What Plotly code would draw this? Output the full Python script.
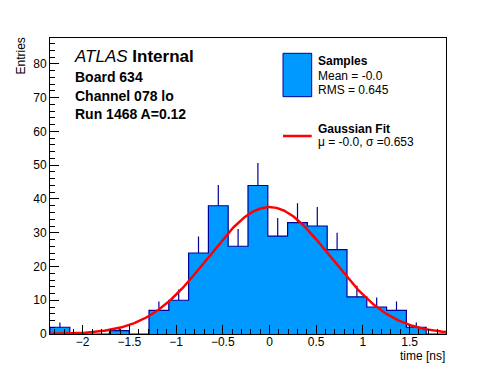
import math
import plotly.graph_objects as go

# ---------------- data ----------------
bin_edges = [-2.35, -2.138, -1.926, -1.714, -1.502, -1.29, -1.078, -0.866, -0.654,
             -0.442, -0.23, -0.018, 0.194, 0.406, 0.618, 0.83, 1.042, 1.254,
             1.466, 1.678, 1.89]
counts = [2, 0, 0, 1, 0, 7, 10, 24, 38, 26, 44, 29, 33, 32, 25, 11, 8, 7, 2, 0]

fit_mean = 0.0
fit_sigma = 0.653
fit_amplitude = 37.6

x_tick_vals = [-2, -1.5, -1, -0.5, 0, 0.5, 1, 1.5]
y_tick_vals = [0, 10, 20, 30, 40, 50, 60, 70, 80]

x_range = [bin_edges[0], bin_edges[-1]]
y_range = [0, 87.7]

# ---------------- style ----------------
FONT = "Liberation Sans, Arial, Helvetica, sans-serif"
FILL = "#0099FF"
EDGE = "#000099"
RED = "#FF0000"

W, H = 496, 372
ML, MR, MT, MB = 50, 50, 38, 38
PW, PH = W - ML - MR, H - MT - MB


def px(xp):
    return (xp - ML) / PW


def py(yp):
    return (H - MB - yp) / PH


centers = [(bin_edges[i] + bin_edges[i + 1]) / 2 for i in range(len(counts))]

# step outline (ROOT style)
step_x = [bin_edges[0]] + bin_edges
step_y = [0] + counts + [0]

fig = go.Figure()

fig.add_trace(go.Scatter(
    x=step_x, y=step_y, mode="lines", line=dict(shape="hv", color=EDGE, width=1.2),
    fill="tozeroy", fillcolor=FILL, showlegend=False, hoverinfo="skip"))

# upper error bars (sqrt(N)), no caps
fig.add_trace(go.Scatter(
    x=centers, y=counts, mode="markers",
    marker=dict(size=1, color="rgba(0,0,0,0)"),
    error_y=dict(type="data", symmetric=False,
                 array=[math.sqrt(c) for c in counts],
                 arrayminus=[0] * len(counts),
                 color=EDGE, thickness=1.2, width=0),
    showlegend=False, hoverinfo="skip"))

# gaussian fit curve
n_pts = 400
fx = [x_range[0] + (x_range[1] - x_range[0]) * i / (n_pts - 1) for i in range(n_pts)]
fy = [fit_amplitude * math.exp(-0.5 * ((v - fit_mean) / fit_sigma) ** 2) for v in fx]
fig.add_trace(go.Scatter(x=fx, y=fy, mode="lines", line=dict(color=RED, width=2.5),
                         showlegend=False, hoverinfo="skip"))

# ---------------- annotations ----------------
ann = []


def text(x, y, s, size=12, xanchor="left", yanchor="middle", angle=0):
    ann.append(dict(x=px(x), y=py(y), xref="paper", yref="paper", text=s,
                    showarrow=False, xanchor=xanchor, yanchor=yanchor,
                    textangle=angle, borderpad=0,
                    font=dict(family=FONT, size=size, color="black")))


text(73, 57, "<i>ATLAS</i> <b>Internal</b>", size=17)
text(74, 77, "<b>Board 634</b>", size=14)
text(74, 96, "<b>Channel 078 lo</b>", size=14)
text(74, 114, "<b>Run 1468 A=0.12</b>", size=14)

text(317, 61, "<b>Samples</b>", size=12)
text(317, 76, "Mean = -0.0", size=12)
text(317, 90, "RMS = 0.645", size=12)
text(317, 129, "<b>Gaussian Fit</b>", size=12)
text(317, 142, "\u03bc = -0.0, \u03c3 =0.653", size=12)

text(20, 37, "Entries", size=12, xanchor="center", yanchor="top", angle=-90)
text(446, 356, "time [ns]", size=12, xanchor="right", yanchor="middle")

shapes = [
    dict(type="rect", xref="paper", yref="paper", x0=px(283), x1=px(311.7),
         y0=py(96.7), y1=py(53.3), fillcolor=FILL, line=dict(color=EDGE, width=1)),
    dict(type="line", xref="paper", yref="paper", x0=px(283), x1=px(311.7),
         y0=py(136), y1=py(136), line=dict(color=RED, width=2.5)),
]

axis_common = dict(showgrid=False, zeroline=False, showline=True, mirror=True,
                   linecolor="black", linewidth=1, ticks="inside",
                   tickcolor="black", tickwidth=1,
                   tickfont=dict(family=FONT, size=12, color="black"))

fig.update_layout(
    width=W, height=H,
    margin=dict(l=ML, r=MR, t=MT, b=MB, pad=0),
    paper_bgcolor="white", plot_bgcolor="white",
    showlegend=False,
    xaxis=dict(range=x_range, tickmode="array", tickvals=x_tick_vals, ticklen=9,
               ticklabelstandoff=-3,
               minor=dict(dtick=0.1, tick0=0, ticks="inside", ticklen=5,
                          tickcolor="black", showgrid=False),
               **axis_common),
    yaxis=dict(range=y_range, tickmode="array", tickvals=y_tick_vals, ticklen=9,
               minor=dict(dtick=2, tick0=0, ticks="inside", ticklen=5,
                          tickcolor="black", showgrid=False),
               **axis_common),
    annotations=ann, shapes=shapes,
)

fig.write_html("out.html", config={"displayModeBar": False},
               post_script="document.body.style.margin='0';document.body.style.overflow='hidden';")
